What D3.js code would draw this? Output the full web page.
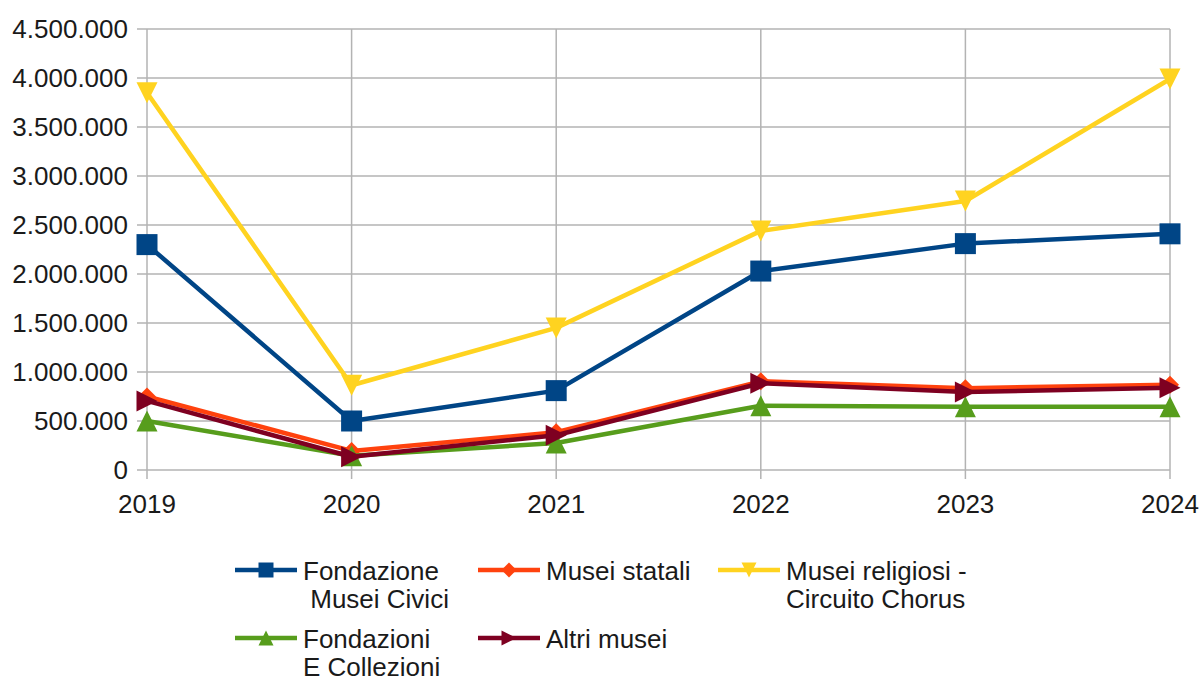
<!doctype html>
<html>
<head>
<meta charset="utf-8">
<style>
    body { margin: 0; background: #fff; }
    text { font-family: "Liberation Sans", Arial, sans-serif; fill: #1a1a1a; }
</style>
<script src="https://d3js.org/d3.v7.min.js"></script>
</head>
<body>
<svg id="chart" width="1203" height="682"></svg>
<script>
    var years = ["2019", "2020", "2021", "2022", "2023", "2024"];
    var yTicks = [0, 500000, 1000000, 1500000, 2000000, 2500000, 3000000, 3500000, 4000000, 4500000];

    var civici = [2300000, 500000, 810000, 2030000, 2310000, 2410000];
    var statali = [750000, 195000, 385000, 905000, 835000, 870000];
    var religiosi = [3850000, 865000, 1450000, 2440000, 2745000, 3990000];
    var collezioni = [500000, 145000, 275000, 655000, 645000, 645000];
    var altri = [705000, 135000, 355000, 885000, 795000, 840000];

    var series = [
        {name: ["Fondazione", " Musei Civici"], values: civici, color: "#004586", shape: "square"},
        {name: ["Musei statali"], values: statali, color: "#ff420e", shape: "diamond"},
        {name: ["Musei religiosi -", "Circuito Chorus"], values: religiosi, color: "#ffd320", shape: "down"},
        {name: ["Fondazioni", "E Collezioni"], values: collezioni, color: "#579d1c", shape: "up"},
        {name: ["Altri musei"], values: altri, color: "#7e0021", shape: "right"}
    ];

    var svg = d3.select("#chart");

    var x = d3.scalePoint().domain(years).range([147, 1170]);
    var y = d3.scaleLinear().domain([0, 4500000]).range([470, 29]);

    var it = d3.formatLocale({decimal: ",", thousands: ".", grouping: [3], currency: ["", ""]});
    var fmt = it.format(",d");

    // marker paths centred on 0,0
    function marker(shape, s) {
        var h = s / 2;
        if (shape == "square") return "M" + -h + "," + -h + "H" + h + "V" + h + "H" + -h + "Z";
        if (shape == "diamond") return "M0," + -h + "L" + h + ",0L0," + h + "L" + -h + ",0Z";
        if (shape == "up") return "M0," + -h + "L" + h + "," + h + "L" + -h + "," + h + "Z";
        if (shape == "down") return "M" + -h + "," + -h + "L" + h + "," + -h + "L0," + h + "Z";
        return "M" + -h + "," + -h + "L" + h + ",0L" + -h + "," + h + "Z";
    }

    // grid
    var grid = svg.append("g").attr("stroke", "#b3b3b3").attr("stroke-width", 1.5);
    grid.selectAll(".hg")
        .data(yTicks)
        .enter().append("line")
        .attr("x1", 137).attr("x2", x("2024"))
        .attr("y1", function(d) { return y(d); })
        .attr("y2", function(d) { return y(d); });
    grid.selectAll(".vg")
        .data(years)
        .enter().append("line")
        .attr("x1", function(d) { return x(d); })
        .attr("x2", function(d) { return x(d); })
        .attr("y1", y(4500000)).attr("y2", y(0) + 9);

    // y labels
    svg.append("g").selectAll("text")
        .data(yTicks)
        .enter().append("text")
        .attr("x", 128)
        .attr("y", function(d) { return y(d); })
        .attr("dy", "0.35em")
        .attr("text-anchor", "end")
        .attr("font-size", "26px")
        .text(function(d) { return fmt(d); });

    // x labels
    svg.append("g").selectAll("text")
        .data(years)
        .enter().append("text")
        .attr("x", function(d) { return x(d); })
        .attr("y", 513)
        .attr("text-anchor", "middle")
        .attr("font-size", "26px")
        .text(function(d) { return d; });

    var line = d3.line()
        .x(function(d, i) { return x(years[i]); })
        .y(function(d) { return y(d); });

    series.forEach(function(s) {
        var g = svg.append("g");
        g.append("path")
         .attr("d", line(s.values))
         .attr("fill", "none")
         .attr("stroke", s.color)
         .attr("stroke-width", 4.5)
         .attr("stroke-linejoin", "round");
        g.selectAll("path.m")
         .data(s.values)
         .enter().append("path")
         .attr("class", "m")
         .attr("transform", function(d, i) { return "translate(" + x(years[i]) + "," + y(d) + ")"; })
         .attr("d", marker(s.shape, s.shape == "diamond" ? 18 : 21))
         .attr("fill", s.color);
    });

    // legend
    var legendPos = [[235, 570], [478, 570], [718, 570], [235, 638], [478, 638]];
    series.forEach(function(s, i) {
        var p = legendPos[i];
        var g = svg.append("g").attr("transform", "translate(" + p[0] + "," + p[1] + ")");
        g.append("line")
         .attr("x1", 0).attr("x2", 62)
         .attr("stroke", s.color)
         .attr("stroke-width", 4.5);
        g.append("path")
         .attr("transform", "translate(31,0)")
         .attr("d", marker(s.shape, 15))
         .attr("fill", s.color);
        g.selectAll("text")
         .data(s.name)
         .enter().append("text")
         .attr("x", 68)
         .attr("y", function(d, j) { return 10 + j * 28; })
         .attr("font-size", "26px")
         .attr("xml:space", "preserve")
         .style("white-space", "pre")
         .text(function(d) { return d; });
    });
</script>
</body>
</html>
